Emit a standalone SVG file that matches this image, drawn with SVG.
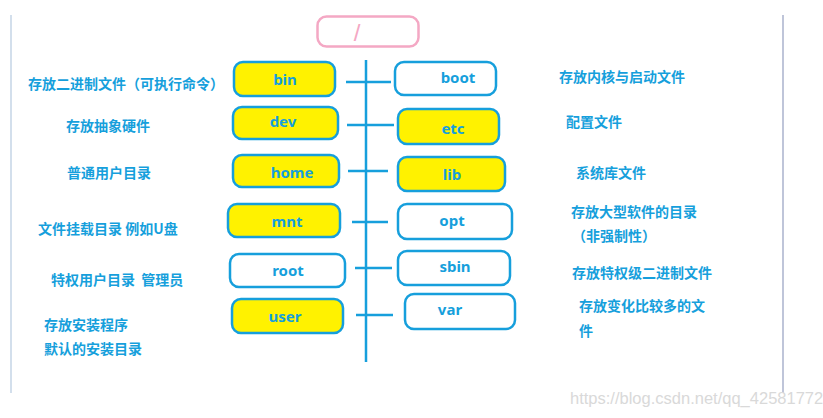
<svg xmlns="http://www.w3.org/2000/svg" width="823" height="418" viewBox="0 0 823 418">
<style>
.box{stroke:#169fdc;stroke-width:2.5;}
.y{fill:#fff200;}
.w{fill:#ffffff;}
.lbl{font-family:"Noto Sans","Open Sans",sans-serif;font-weight:bold;font-size:15px;fill:#169fdc;text-anchor:middle;dominant-baseline:central;}
.desc{font-family:"Noto Sans CJK SC","Noto Sans",sans-serif;font-weight:bold;font-size:14px;fill:#169fdc;dominant-baseline:central;}
.conn{stroke:#169fdc;stroke-width:2.5;fill:none;}
</style>
<rect width="823" height="418" fill="#ffffff"/>
<line x1="11" y1="15" x2="11" y2="393" stroke="#c4d4e6" stroke-width="1.5"/>
<line x1="783" y1="15" x2="783" y2="393" stroke="#aab2cc" stroke-width="1.5"/>
<g id="connectors">
<line class="conn" x1="366" y1="60" x2="366" y2="362"/>
<line class="conn" x1="346" y1="82" x2="391" y2="82"/>
<line class="conn" x1="347" y1="125" x2="394" y2="125"/>
<line class="conn" x1="348" y1="171" x2="388" y2="171"/>
<line class="conn" x1="352" y1="222" x2="388" y2="222"/>
<line class="conn" x1="355" y1="268" x2="392" y2="268"/>
<line class="conn" x1="356" y1="315" x2="393" y2="315"/>
</g>
<g id="root-dir">
<rect x="317.5" y="16.5" width="101" height="30" rx="9" fill="#ffffff" stroke="#f4a8c4" stroke-width="2.5"/>
<text x="357" y="32" font-family="Liberation Sans,sans-serif" font-size="24" fill="#f4a8c4" text-anchor="middle" dominant-baseline="central">/</text>
</g>
<g id="bin"><rect class="box y" x="234" y="62" width="101" height="34" rx="9"/><text class="lbl" x="285" y="79">bin</text></g>
<g id="dev"><rect class="box y" x="233" y="107" width="105" height="32" rx="9"/><text class="lbl" x="283" y="121">dev</text></g>
<g id="home"><rect class="box y" x="233" y="155" width="106" height="32" rx="9"/><text class="lbl" x="292" y="172">home</text></g>
<g id="mnt"><rect class="box y" x="228" y="204" width="112" height="33" rx="9"/><text class="lbl" x="287" y="221">mnt</text></g>
<g id="root"><rect class="box w" x="230" y="254" width="115" height="33" rx="9"/><text class="lbl" x="288" y="270">root</text></g>
<g id="user"><rect class="box y" x="232" y="299" width="111" height="34" rx="9"/><text class="lbl" x="285" y="316">user</text></g>
<g id="boot"><rect class="box w" x="395" y="62" width="101" height="33" rx="9"/><text class="lbl" x="458" y="77">boot</text></g>
<g id="etc"><rect class="box y" x="398" y="109" width="101" height="35" rx="9"/><text class="lbl" x="453" y="128">etc</text></g>
<g id="lib"><rect class="box y" x="398" y="157" width="107" height="34" rx="9"/><text class="lbl" x="452" y="174">lib</text></g>
<g id="opt"><rect class="box w" x="398" y="204" width="114" height="35" rx="9"/><text class="lbl" x="452" y="220">opt</text></g>
<g id="sbin"><rect class="box w" x="398" y="251" width="112" height="34" rx="9"/><text class="lbl" x="455" y="266">sbin</text></g>
<g id="var"><rect class="box w" x="405" y="294" width="110" height="35" rx="9"/><text class="lbl" x="450" y="309">var</text></g>
<g id="descriptions">
<text class="desc" x="28" y="83">存放二进制文件（可执行命令）</text>
<text class="desc" x="66" y="125">存放抽象硬件</text>
<text class="desc" x="67" y="172">普通用户目录</text>
<text class="desc" x="38" y="228">文件挂载目录 例如U盘</text>
<text class="desc" x="51" y="279" xml:space="preserve">特权用户目录  管理员</text>
<text class="desc" x="44" y="324">存放安装程序</text>
<text class="desc" x="44" y="348">默认的安装目录</text>
<text class="desc" x="559" y="76">存放内核与启动文件</text>
<text class="desc" x="566" y="121">配置文件</text>
<text class="desc" x="576" y="172">系统库文件</text>
<text class="desc" x="571" y="211">存放大型软件的目录</text>
<text class="desc" x="572" y="235">（非强制性）</text>
<text class="desc" x="572" y="272">存放特权级二进制文件</text>
<text class="desc" x="579" y="305">存放变化比较多的文</text>
<text class="desc" x="579" y="330">件</text>
</g>
<text x="570" y="398" font-family="Liberation Sans,sans-serif" font-size="16.5" fill="#d9d9d9" dominant-baseline="central">https://blog.csdn.net/qq_42581772</text>
</svg>
